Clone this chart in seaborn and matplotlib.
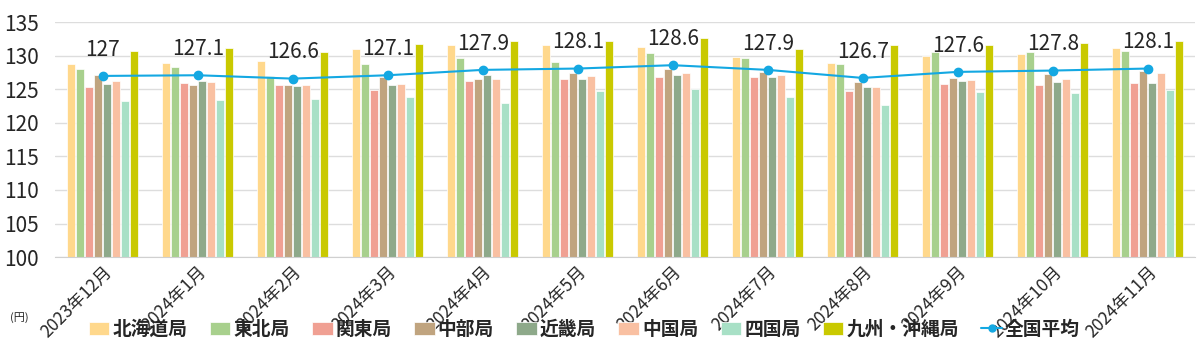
import numpy as np
import pandas as pd
import matplotlib.pyplot as plt
from matplotlib.lines import Line2D
import seaborn as sns

# ── DATA ─────────────────────────────────────────────
months = ['2023年12月', '2024年1月', '2024年2月', '2024年3月', '2024年4月', '2024年5月',
          '2024年6月', '2024年7月', '2024年8月', '2024年9月', '2024年10月', '2024年11月']
regions = ['北海道局', '東北局', '関東局', '中部局', '近畿局', '中国局', '四国局', '九州・沖縄局']

hokkaido = [128.8, 128.9, 129.2, 131.0, 131.6, 131.6, 131.3, 129.8, 129.0, 130.0, 130.2, 131.1]
tohoku   = [128.0, 128.4, 127.0, 128.8, 129.7, 129.1, 130.4, 129.7, 128.8, 130.5, 130.6, 130.7]
kanto    = [125.3, 126.0, 125.7, 124.9, 126.3, 126.6, 126.9, 126.8, 124.8, 125.8, 125.7, 126.0]
chubu    = [127.2, 125.6, 125.7, 126.8, 126.5, 127.4, 128.0, 127.6, 126.1, 126.7, 127.3, 127.8]
kinki    = [125.8, 126.3, 125.5, 125.6, 127.1, 126.5, 127.2, 126.8, 125.4, 126.2, 126.1, 126.0]
chugoku  = [126.2, 126.1, 125.6, 125.8, 126.6, 127.0, 127.5, 127.1, 125.3, 126.4, 126.6, 127.4]
shikoku  = [123.2, 123.4, 123.5, 123.9, 122.9, 124.7, 125.1, 123.9, 122.7, 124.6, 124.4, 124.9]
kyushu   = [130.7, 131.1, 130.6, 131.7, 132.2, 132.2, 132.6, 131.0, 131.6, 131.6, 131.9, 132.2]
national = [127.0, 127.1, 126.6, 127.1, 127.9, 128.1, 128.6, 127.9, 126.7, 127.6, 127.8, 128.1]

colors = ['#FFD88C', '#A8D08D', '#F0A093', '#C0A47F', '#8EA98A', '#F9C0A2', '#A8E0C6', '#C9C900']
line_color = '#14A8E2'

series = [hokkaido, tohoku, kanto, chubu, kinki, chugoku, shikoku, kyushu]
df = pd.DataFrame({
    'month': np.tile(months, len(regions)),
    'region': np.repeat(regions, len(months)),
    'value': np.concatenate(series),
})

# ── PLOT ─────────────────────────────────────────────
sns.set_style('white')
plt.rcParams['font.family'] = ['Noto Sans CJK JP', 'DejaVu Sans']

fig, ax = plt.subplots(figsize=(12, 3.59), dpi=100)
fig.subplots_adjust(left=0.046, right=0.996, top=0.938, bottom=0.284)

sns.barplot(data=df, x='month', y='value', hue='region', order=months,
            hue_order=regions, palette=colors, saturation=1, width=0.76, gap=0.15,
            edgecolor='white', linewidth=0.5, ax=ax)

# national average line + labels
x = np.arange(len(months))
ax.plot(x, national, color=line_color, lw=1.5, marker='o', ms=6, zorder=5)
for xi, v in zip(x, national):
    ax.annotate(f'{v:g}', (xi, v), xytext=(0, 11), textcoords='offset points',
                ha='center', va='bottom', fontsize=15)

ax.set_ylim(100, 135)
ax.set_xlim(-0.5, len(months) - 0.5)
ax.set_yticks(range(100, 136, 5))
ax.grid(axis='y', color='#DDDDDD', lw=1)
ax.set_axisbelow(True)
for s in ['top', 'right', 'left']:
    ax.spines[s].set_visible(False)
ax.spines['bottom'].set_color('#D0D0D0')

ax.set_xlabel('')
ax.set_ylabel('')
ax.tick_params(axis='y', length=0, labelsize=15, pad=12)
ax.tick_params(axis='x', which='major', length=0, labelsize=12.5, pad=4)
ax.set_xticks(x - 0.5, minor=True)
ax.tick_params(axis='x', which='minor', length=5, color='#D0D0D0')
for lab in ax.get_xticklabels():
    lab.set_rotation(45)
    lab.set_ha('right')
    lab.set_rotation_mode('anchor')

fig.text(0.008, 0.105, '(円)', fontsize=8)

handles, labels = ax.get_legend_handles_labels()
ax.get_legend().remove()
handles = handles[:len(regions)]
labels = labels[:len(regions)]
handles.append(Line2D([], [], color=line_color, lw=1.5, marker='o', ms=5))
labels.append('全国平均')
fig.legend(handles, labels, loc='center left', bbox_to_anchor=(0.074, 0.083),
           ncol=9, frameon=False, prop={'size': 13.5, 'weight': 'bold'},
           handlelength=1.1, handleheight=0.7, handletextpad=0.15,
           columnspacing=1.2, borderaxespad=0, borderpad=0)

plt.savefig('out.png', dpi=100)
